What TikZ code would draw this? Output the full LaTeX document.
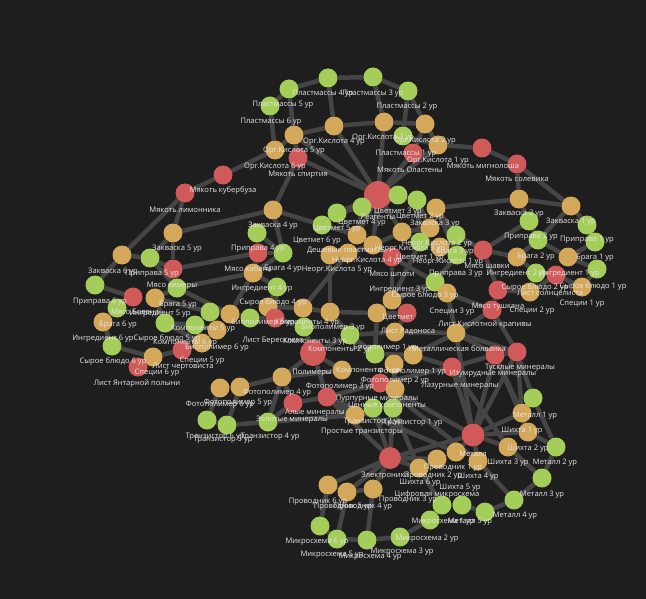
\documentclass[tikz,border=0pt]{standalone}
\usepackage{fontspec}
\setmainfont{Open Sans}
\usetikzlibrary{backgrounds}
\pgfdeclarelayer{edges}
\pgfsetlayers{background,edges,main}
\definecolor{bgc}{HTML}{1E1E1E}
\definecolor{cg}{HTML}{A5CD5A}
\definecolor{co}{HTML}{D4A85A}
\definecolor{cr}{HTML}{D05A5A}
\definecolor{ce}{HTML}{454545}
\definecolor{ct}{HTML}{E6E6E6}
\begin{document}
\begin{tikzpicture}[x=1bp,y=-1bp,
  nd/.style={circle,inner sep=0pt,minimum size=19bp},
  G/.style={nd,fill=cg},
  O/.style={nd,fill=co},
  R/.style={nd,fill=cr},
  RB/.style={circle,inner sep=0pt,fill=cr,minimum size=#1},
  E/.style={draw=ce,line width=4.5bp},
  L/.style={text=ct,font=\fontsize{7.6}{8}\selectfont,inner sep=0pt}]
\begin{pgfonlayer}{background}
\fill[bgc] (0,0) rectangle (646,599);
\end{pgfonlayer}
\useasboundingbox (0,0) rectangle (646,599);
% ---- nodes: top
\node[G] (p5) at (289,89) {};
\node[G] (p4) at (328,78) {};
\node[G] (p3) at (373,77) {};
\node[G] (p2) at (408,91) {};
\node[G] (p6) at (270,106) {};
\node[G] (p1) at (403,136) {};
\node[O] (k5) at (294,135) {};
\node[O] (k4) at (334,126) {};
\node[O] (k3) at (384,122) {};
\node[O] (k2) at (425,124) {};
\node[O] (k1) at (438,145) {};
\node[O] (k6) at (275,150) {};
\node[R] (msp) at (298,158) {};
\node[R] (mol) at (413,153) {};
\node[R] (mmi) at (482,148) {};
\node[R] (mso) at (517,164) {};
\node[R] (mku) at (223,175) {};
\node[R] (mli) at (185,193) {};
% ---- middle
\node[RB=28bp] (rea) at (378,195) {};
\node[G] (c3) at (398,195) {};
\node[G] (c2) at (417,200) {};
\node[O] (z3) at (436,208) {};
\node[G] (c4) at (362,207) {};
\node[G] (c5) at (337,213) {};
\node[G] (c6) at (322,225) {};
\node[O] (z4) at (273,210) {};
\node[O] (z5) at (173,233) {};
\node[G] (pr4) at (257,233) {};
\node[R] (mkb) at (258,253) {};
\node[G] (br4) at (283,253) {};
\node[O] (dp) at (357,235) {};
\node[O] (n3) at (402,232) {};
\node[O] (n2) at (430,228) {};
\node[G] (br3) at (456,235) {};
\node[O] (n4) at (373,245) {};
\node[G] (c1) at (420,242) {};
\node[O] (n1) at (440,247) {};
\node[O] (n5) at (348,253) {};
\node[O] (n6) at (330,255) {};
\node[R] (msh) at (392,257) {};
\node[G] (pr3) at (457,255) {};
\node[R] (msv) at (483,250) {};
% ---- right
\node[O] (z2) at (519,199) {};
\node[O] (z1) at (571,206) {};
\node[G] (pr2) at (529,221) {};
\node[G] (pr1) at (587,225) {};
\node[G] (br2) at (538,240) {};
\node[G] (br1) at (595,242) {};
\node[O] (i2) at (517,257) {};
\node[O] (i1) at (568,257) {};
\node[G] (sb2) at (536,273) {};
\node[R] (lsl) at (556,275) {};
\node[G] (sb1) at (597,269) {};
\node[O] (sp1) at (582,287) {};
\node[O] (sp2) at (530,292) {};
\node[R] (mtu) at (498,290) {};
\node[R] (lkk) at (492,310) {};
% ---- center right
\node[G] (sb3) at (435,282) {};
\node[O] (sp3) at (447,293) {};
\node[O] (i3) at (392,300) {};
\node[O] (q1) at (377,313) {};
\node[R] (q2) at (407,313) {};
\node[O] (lrd) at (395,332) {};
\node[O] (mb) at (456,333) {};
\node[G] (bp1) at (375,354) {};
\node[O] (f1) at (413,355) {};
\node[O] (f2) at (394,364) {};
\node[R] (tus) at (517,352) {};
\node[R] (izu) at (495,355) {};
\node[R] (laz) at (452,367) {};
% ---- center
\node[O] (i4) at (253,273) {};
\node[G] (sb4) at (277,287) {};
\node[O] (bp5) at (268,307) {};
\node[O] (k4c) at (303,308) {};
\node[O] (bp3) at (330,312) {};
\node[G] (g1) at (250,318) {};
\node[R] (lbr) at (275,318) {};
\node[G] (kc3) at (304,327) {};
\node[G] (kc2) at (350,335) {};
\node[RB=26bp] (pol) at (313,353) {};
% ---- left
\node[O] (z6) at (122,255) {};
\node[G] (pr5) at (150,258) {};
\node[R] (mhi) at (173,269) {};
\node[G] (pr6) at (95,285) {};
\node[R] (mbo) at (133,297) {};
\node[G] (br5) at (177,288) {};
\node[O] (i5) at (155,298) {};
\node[G] (br6) at (117,308) {};
\node[O] (i6) at (103,322) {};
\node[G] (sb5) at (165,323) {};
\node[G] (kc6) at (195,325) {};
\node[G] (kc5) at (210,312) {};
\node[O] (bp4) at (230,314) {};
\node[O] (bp6) at (217,330) {};
\node[O] (sp5) at (202,343) {};
\node[R] (lch) at (182,350) {};
\node[O] (sp6) at (153,357) {};
\node[R] (lya) at (138,367) {};
\node[G] (sb6) at (112,346) {};
% ---- lower
\node[O] (f6) at (220,388) {};
\node[O] (f5) at (240,387) {};
\node[O] (f4) at (282,377) {};
\node[O] (f3) at (342,370) {};
\node[R] (aly) at (327,397) {};
\node[R] (zol) at (293,403) {};
\node[R] (pur) at (380,383) {};
\node[O] (f2b) at (395,389) {};
\node[G] (t6) at (207,420) {};
\node[G] (t5) at (227,425) {};
\node[G] (t4) at (268,422) {};
\node[G] (t2) at (373,408) {};
\node[G] (t1) at (393,408) {};
\node[O] (tt) at (355,415) {};
% ---- bottom right
\node[G] (m1) at (533,398) {};
\node[O] (s1) at (522,413) {};
\node[O] (s2) at (528,432) {};
\node[RB=23bp] (met) at (473,435) {};
\node[G] (m2) at (556,447) {};
\node[O] (s3) at (508,447) {};
\node[O] (s4) at (478,461) {};
\node[O] (s5) at (456,452) {};
\node[G] (m3) at (542,478) {};
\node[G] (m4) at (514,500) {};
\node[G] (m5) at (485,512) {};
\node[G] (g2) at (462,505) {};
\node[G] (g3) at (442,505) {};
\node[G] (g4) at (430,520) {};
\node[RB=22bp] (ele) at (390,458) {};
\node[O] (pv2) at (419,468) {};
\node[O] (pv1) at (437,459) {};
\node[O] (pv6) at (328,485) {};
\node[O] (pv5) at (347,492) {};
\node[O] (pv4) at (373,489) {};
\node[G] (ms6) at (320,526) {};
\node[G] (ms5) at (337,539) {};
\node[G] (ms4) at (367,540) {};
\node[G] (ms3) at (400,537) {};
% ---- edges
\begin{pgfonlayer}{edges}
\foreach \a/\b in {p6/p5,p5/p4,p4/p3,p3/p2,p2/p1,p6/k6,p5/k5,p4/k4,p3/k3,p2/k2,p1/k1,
 k6/k5,k5/k4,k4/k3,k3/k2,k2/k1,mku/k6,msp/k5,mol/k2,mmi/k1,mmi/mso,mli/mku,
 rea/k4,rea/k3,rea/mol,rea/msp,rea/k1,rea/k5,rea/c4,rea/c3,rea/n4,rea/n3,rea/dp,
 msp/z4,z4/z5,z4/br4,z5/mli,z5/mhi,mli/z6,z4/c6,pr4/br4,pr4/mkb,
 c6/c5,c5/c4,c3/c2,c2/c1,c1/i3,c6/dp,
 mso/z2,z2/z1,mso/z1,z1/pr1,pr1/br1,br1/i1,i1/sb1,sb1/sp1,z2/pr2,pr2/br2,br2/i2,i2/sb2,
 sb2/sp2,lsl/sp1,lsl/sp2,msv/i2,mtu/sp2,z2/z3,z1/br2,br2/i1,
 z3/n2,z3/pr3,pr3/br3,br3/n1,n2/n3,n3/n4,n4/n5,n5/n6,n1/c1,msh/i3,pr3/sb3,msv/mtu,
 sb3/sp3,i3/sb3,sp3/lkk,mtu/lkk,msh/sb3,i3/q1,q1/q2,q2/lrd,lrd/mb,lkk/mb,mb/met,
 z6/pr6,z6/pr5,pr5/mhi,pr6/mbo,mbo/br6,br5/i5,i5/sb5,br6/i6,i6/sb6,sb6/sp6,sb5/sp5,
 sp6/lya,sp5/lch,lch/sp6,mhi/br5,pr5/br5,mhi/mkb,br5/i4,
 mkb/i4,br4/i4,i4/sb4,sb4/bp5,bp5/k4c,k4c/bp3,bp3/kc2,g1/lbr,lbr/kc3,kc3/pol,kc2/pol,
 bp4/kc5,kc5/kc6,kc6/bp6,bp6/sp5,bp4/g1,sb5/kc6,
 f6/f5,f5/f4,f4/f3,f6/t6,f5/t5,f4/t4,t6/t5,t5/t4,t4/tt,tt/t2,t2/t1,f3/pol,pol/f4,
 zol/aly,aly/pur,pur/laz,laz/izu,izu/tus,tus/s1,izu/s2,laz/s3,pur/s4,aly/s5,
 met/s1,met/s2,met/s3,met/s4,met/s5,m1/m2,m2/m3,m3/m4,m4/m5,s1/m1,s2/m2,s3/m3,s4/m4,
 met/ele,ele/pv1,ele/pv2,ele/pv6,ele/pv5,ele/pv4,pv6/ms6,pv5/ms5,pv4/ms4,
 ms6/ms5,ms5/ms4,ms4/ms3,ms3/g4,g4/g3,g3/g2,g2/m5,pv1/pv2,pv6/pv5,pv5/pv4,pv2/g3,
 t1/ele,t2/ele,f1/f2,bp1/f1,f2/f2b,f2b/pur,bp1/kc2,f1/mb,
 rea/c5,c4/dp,dp/n4,n4/msh,n3/c1,c2/n2,z3/br3,br3/msv,msv/pr2,br5/bp4,i5/kc5,i4/bp4,
 sb4/lbr,lbr/bp5,k4c/kc3,bp3/q1,n6/bp3,n5/k4c,q1/bp1,lrd/kc2,f1/laz,mb/izu,mb/tus,
 lkk/tus,sp3/mb,tus/m1,izu/s1,laz/met,pur/met,f2b/t1,tt/aly,zol/t4,aly/ele,t1/pv2,
 tus/met,izu/met,zol/f4,pol/aly,mkb/br4,z5/pr5}
 \draw[E] (\a) -- (\b);
\end{pgfonlayer}
% ---- labels
\node[L] (t001) at (323,94) {Пластмассы 4 ур};
\node[L] (t002) at (373,94) {Пластмассы 3 ур};
\node[L] (t003) at (283,105) {Пластмассы 5 ур};
\node[L] (t004) at (407,107) {Пластмассы 2 ур};
\node[L] (t005) at (271,122) {Пластмассы 6 ур};
\node[L] (t006) at (406,154) {Пластмассы 1 ур};
\node[L] (t007) at (334,142) {Орг.Кислота 4 ур};
\node[L] (t008) at (383,138) {Орг.Кислота 3 ур};
\node[L] (t009) at (425,141) {Орг.Кислота 2 ур};
\node[L] (t010) at (294,151) {Орг.Кислота 5 ур};
\node[L] (t011) at (438,161) {Орг.Кислота 1 ур};
\node[L] (t012) at (275,167) {Орг.Кислота 6 ур};
\node[L] (t013) at (298,175) {Мякоть спиртия};
\node[L] (t014) at (410,170) {Мякоть Оластены};
\node[L] (t015) at (483,166) {Мякоть мигнолоша};
\node[L] (t016) at (517,179) {Мякоть солевика};
\node[L] (t017) at (223,191) {Мякоть кубербуза};
\node[L] (t018) at (185,210) {Мякоть лимонника};
\node[L] (t019) at (398,212) {Цветмет 3 ур};
\node[L] (t020) at (378,217) {Реагенты};
\node[L] (t021) at (420,217) {Цветмет 2 ур};
\node[L] (t022) at (362,223) {Цветмет 4 ур};
\node[L] (t023) at (435,224) {Закваска 3 ур};
\node[L] (t024) at (273,226) {Закваска 4 ур};
\node[L] (t025) at (337,229) {Цветмет 5 ур};
\node[L] (t026) at (317,241) {Цветмет 6 ур};
\node[L] (t027) at (437,244) {Неорг.Кислота 2 ур};
\node[L] (t028) at (177,249) {Закваска 5 ур};
\node[L] (t029) at (258,249) {Приправа 4 ур};
\node[L] (t030) at (347,251) {Дешевые пластмассы};
\node[L] (t031) at (410,249) {Неорг.Кислота 3 ур};
\node[L] (t032) at (455,252) {Брага 3 ур};
\node[L] (t033) at (420,258) {Цветмет 1 ур};
\node[L] (t034) at (367,261) {Неорг.Кислота 4 ур};
\node[L] (t035) at (448,262) {Неорг.Кислота 1 ур};
\node[L] (t036) at (487,266) {Мясо шавки};
\node[L] (t037) at (248,269) {Мясо кабана};
\node[L] (t038) at (283,269) {Брага 4 ур};
\node[L] (t039) at (337,270) {Неорг.Кислота 5 ур};
\node[L] (t040) at (392,274) {Мясо шпоти};
\node[L] (t041) at (456,274) {Приправа 3 ур};
\node[L] (t042) at (519,214) {Закваска 2 ур};
\node[L] (t043) at (571,222) {Закваска 1 ур};
\node[L] (t044) at (531,237) {Приправа 2 ур};
\node[L] (t045) at (587,240) {Приправа 1 ур};
\node[L] (t046) at (536,257) {Брага 2 ур};
\node[L] (t047) at (595,258) {Брага 1 ур};
\node[L] (t048) at (517,274) {Ингредиент 2 ур};
\node[L] (t049) at (569,274) {Ингредиент 1 ур};
\node[L] (t050) at (535,288) {Сырое блюдо 2 ур};
\node[L] (t051) at (593,287) {Сырое блюдо 1 ур};
\node[L] (t052) at (550,293) {Лист солнцелиста};
\node[L] (t053) at (582,304) {Специи 1 ур};
\node[L] (t054) at (498,307) {Мясо тушкана};
\node[L] (t055) at (532,311) {Специи 2 ур};
\node[L] (t056) at (400,290) {Ингредиент 3 ур};
\node[L] (t057) at (425,296) {Сырое блюдо 3 ур};
\node[L] (t058) at (452,312) {Специи 3 ур};
\node[L] (t059) at (398,317) {Цветмет};
\node[L] (t060) at (485,325) {Лист Кислотной крапивы};
\node[L] (t061) at (408,331) {Лист Радоноса};
\node[L] (t062) at (459,349) {Металлическая болванка};
\node[L] (t063) at (385,348) {Биополимер 1 ур};
\node[L] (t064) at (520,368) {Тусклые минералы};
\node[L] (t065) at (493,374) {Изумрудные минералы};
\node[L] (t066) at (460,386) {Лазурные минералы};
\node[L] (t067) at (368,371) {Компоненты 1 ур};
\node[L] (t068) at (412,372) {Фотополимер 1 ур};
\node[L] (t069) at (395,381) {Фотополимер 2 ур};
\node[L] (t070) at (340,387) {Фотополимер 3 ур};
\node[L] (t071) at (377,399) {Пурпурные минералы};
\node[L] (t072) at (387,405) {Ценные компоненты};
\node[L] (t073) at (373,422) {Транзистор 2 ур};
\node[L] (t074) at (413,423) {Транзистор 1 ур};
\node[L] (t075) at (362,432) {Простые транзисторы};
\node[L] (t076) at (113,272) {Закваска 6 ур};
\node[L] (t077) at (152,274) {Приправа 5 ур};
\node[L] (t078) at (172,286) {Мясо химеры};
\node[L] (t079) at (100,302) {Приправа 6 ур};
\node[L] (t080) at (178,305) {Брага 5 ур};
\node[L] (t081) at (135,312) {Мясо Бовена};
\node[L] (t082) at (160,314) {Ингредиент 5 ур};
\node[L] (t083) at (118,325) {Брага 6 ур};
\node[L] (t084) at (203,329) {Компоненты 5 ур};
\node[L] (t085) at (103,339) {Ингредиент 6 ур};
\node[L] (t086) at (167,339) {Сырое блюдо 5 ур};
\node[L] (t087) at (185,343) {Компоненты 6 ур};
\node[L] (t088) at (217,348) {Биополимер 6 ур};
\node[L] (t089) at (202,361) {Специи 5 ур};
\node[L] (t090) at (113,362) {Сырое блюдо 6 ур};
\node[L] (t091) at (183,367) {Лист чертовиста};
\node[L] (t092) at (157,373) {Специи 6 ур};
\node[L] (t093) at (137,384) {Лист Янтарной полыни};
\node[L] (t094) at (262,289) {Ингредиент 4 ур};
\node[L] (t095) at (273,303) {Сырое блюдо 4 ур};
\node[L] (t096) at (263,323) {Биополимер 5 ур};
\node[L] (t097) at (307,323) {Компоненты 4 ур};
\node[L] (t098) at (333,328) {Биополимер 3 ур};
\node[L] (t099) at (315,342) {Компоненты 3 ур};
\node[L] (t100) at (273,341) {Лист Бересклета};
\node[L] (t101) at (340,350) {Компоненты 2 ур};
\node[L] (t102) at (312,373) {Полимеры};
\node[L] (t103) at (277,393) {Фотополимер 4 ур};
\node[L] (t104) at (238,403) {Фотополимер 5 ур};
\node[L] (t105) at (220,405) {Фотополимер 6 ур};
\node[L] (t106) at (315,413) {Алые минералы};
\node[L] (t107) at (292,420) {Золотые минералы};
\node[L] (t108) at (215,437) {Транзистор 6 ур};
\node[L] (t109) at (223,440) {Транзистор 5 ур};
\node[L] (t110) at (270,437) {Транзистор 4 ур};
\node[L] (t111) at (535,416) {Металл 1 ур};
\node[L] (t112) at (522,431) {Шихта 1 ур};
\node[L] (t113) at (528,449) {Шихта 2 ур};
\node[L] (t114) at (473,454) {Металл};
\node[L] (t115) at (555,463) {Металл 2 ур};
\node[L] (t116) at (508,463) {Шихта 3 ур};
\node[L] (t117) at (453,468) {Проводник 1 ур};
\node[L] (t118) at (478,477) {Шихта 4 ур};
\node[L] (t119) at (385,476) {Электроника};
\node[L] (t120) at (433,476) {Проводник 2 ур};
\node[L] (t121) at (420,483) {Шихта 6 ур};
\node[L] (t122) at (460,488) {Шихта 5 ур};
\node[L] (t123) at (437,495) {Цифровая микросхема};
\node[L] (t124) at (408,500) {Проводник 3 ур};
\node[L] (t125) at (318,502) {Проводник 6 ур};
\node[L] (t126) at (343,507) {Проводник 5 ур};
\node[L] (t127) at (363,507) {Проводник 4 ур};
\node[L] (t128) at (542,495) {Металл 3 ур};
\node[L] (t129) at (515,516) {Металл 4 ур};
\node[L] (t130) at (470,522) {Металл 5 ур};
\node[L] (t131) at (443,522) {Микросхема 1 ур};
\node[L] (t132) at (427,539) {Микросхема 2 ур};
\node[L] (t133) at (402,552) {Микросхема 3 ур};
\node[L] (t134) at (317,542) {Микросхема 6 ур};
\node[L] (t135) at (332,555) {Микросхема 5 ур};
\node[L] (t136) at (370,557) {Микросхема 4 ур};
\end{tikzpicture}
\end{document}
